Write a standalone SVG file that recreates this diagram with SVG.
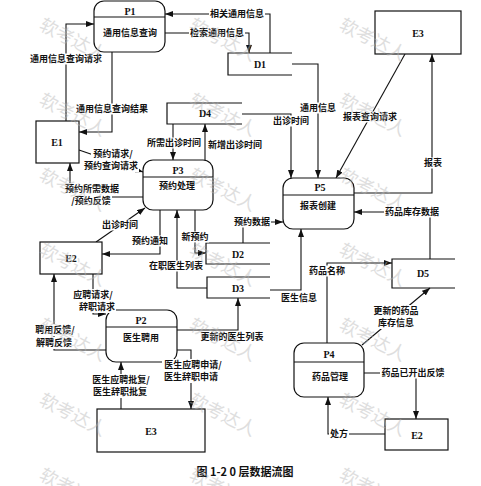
<svg xmlns="http://www.w3.org/2000/svg" width="481" height="486" viewBox="0 0 481 486">
<style>
.n{fill:#fff;stroke:#111;stroke-width:1.2}
.s{fill:none;stroke:#111;stroke-width:1.2}
.c{fill:none;stroke:#111;stroke-width:1.1;marker-end:url(#a)}
.t{font-family:"Noto Sans CJK SC","Noto Sans",sans-serif;font-size:9px;font-weight:bold;fill:#111;text-anchor:middle}
.id{font-family:"Liberation Serif",serif;font-size:10px;font-weight:bold;fill:#111;text-anchor:middle}
.bg{fill:#fff}
.wm{font-family:"Noto Sans CJK SC",sans-serif;font-size:18px;fill:#b8b8b8;opacity:.45}
.cap{font-family:"Noto Sans CJK SC","Liberation Serif",sans-serif;font-size:11px;font-weight:bold;fill:#111;text-anchor:middle}
</style>
<defs>
<marker id="a" markerWidth="8" markerHeight="6" refX="8" refY="3" orient="auto" markerUnits="userSpaceOnUse"><path d="M0,0 L8,3 L0,6 z" fill="#111"/></marker>
</defs>
<rect width="481" height="486" fill="#fff"/>
<g id="connectors">
<path class="c" d="M270,53 V14 H165"/>
<path class="c" d="M165,33 H249 V53"/>
<path class="c" d="M66,121 V24 H94"/>
<path class="c" d="M112,52 V132 H79"/>
<path class="c" d="M292,64 H318 V178"/>
<path class="c" d="M242,114 H291 V178"/>
<path class="c" d="M405,54 L336,178"/>
<path class="c" d="M354,193 H432 V54"/>
<path class="c" d="M430,259 V212 H354"/>
<path class="c" d="M173,124 V160"/>
<path class="c" d="M205,160 V124"/>
<path class="c" d="M79,150 L143,172"/>
<path class="c" d="M143,197 H70 V163"/>
<path class="c" d="M96,242 L145,208"/>
<path class="c" d="M160,210 V254 H102"/>
<path class="c" d="M207,288 H177 V210"/>
<path class="c" d="M195,210 V253 H206"/>
<path class="c" d="M243,243 V222 H283"/>
<path class="c" d="M270,290 H301 V229"/>
<path class="c" d="M327,343 V263 H392"/>
<path class="c" d="M362,345 L430,288"/>
<path class="c" d="M364,373 H416 V419"/>
<path class="c" d="M385,434 H328 V397"/>
<path class="c" d="M93,274 V314 H106"/>
<path class="c" d="M106,350 H54 V274"/>
<path class="c" d="M177,330 H238 V298"/>
<path class="c" d="M177,350 H191 V409"/>
<path class="c" d="M121,409 V362"/>
</g>
<g id="p1"><rect class="n" x="94" y="1" width="71" height="51" rx="10"/><path class="s" d="M94,17 H165"/><text class="id" x="130" y="15">P1</text><text class="t" x="130" y="36">通用信息查询</text></g>
<g id="p3"><rect class="n" x="143" y="160" width="70" height="50" rx="10"/><path class="s" d="M143,177 H213"/><text class="id" x="178" y="174">P3</text><text class="t" x="177" y="189">预约处理</text></g>
<g id="p5"><rect class="n" x="283" y="178" width="71" height="51" rx="10"/><path class="s" d="M283,195 H354"/><text class="id" x="320" y="191">P5</text><text class="t" x="318" y="209">报表创建</text></g>
<g id="p2"><rect class="n" x="106" y="310" width="71" height="52" rx="10"/><path class="s" d="M106,327 H177"/><text class="id" x="141" y="324">P2</text><text class="t" x="141" y="341">医生聘用</text></g>
<g id="p4"><rect class="n" x="294" y="343" width="70" height="54" rx="10"/><path class="s" d="M294,362 H364"/><text class="id" x="329" y="358">P4</text><text class="t" x="330" y="380">药品管理</text></g>
<g id="e1"><rect class="n" x="36" y="121" width="43" height="42"/><text class="id" x="57" y="146">E1</text></g>
<g id="e2a"><rect class="n" x="40" y="242" width="62" height="32"/><text class="id" x="71" y="262">E2</text></g>
<g id="e3a"><rect class="n" x="375" y="11" width="86" height="43"/><text class="id" x="418" y="37">E3</text></g>
<g id="e3b"><rect class="n" x="97" y="409" width="108" height="43"/><text class="id" x="151" y="435">E3</text></g>
<g id="e2b"><rect class="n" x="385" y="419" width="63" height="31"/><text class="id" x="417" y="439">E2</text></g>
<g id="d1"><path class="s" d="M292,53 H228 V75 H292"/><text class="id" x="260" y="68">D1</text></g>
<g id="d4"><path class="s" d="M242,103 H167 V124 H242"/><text class="id" x="205" y="117">D4</text></g>
<g id="d2"><path class="s" d="M270,243 H206 V264 H270"/><text class="id" x="238" y="258">D2</text></g>
<g id="d3"><path class="s" d="M270,277 H207 V298 H270"/><text class="id" x="238" y="292">D3</text></g>
<g id="d5"><path class="s" d="M455,259 H392 V288 H455"/><text class="id" x="423" y="277">D5</text></g>
<g id="labels">
<rect class="bg" x="209" y="8.5" width="56" height="11"/><text class="t" x="237" y="17.3">相关通用信息</text>
<rect class="bg" x="189" y="27.5" width="56" height="11"/><text class="t" x="217" y="36.3">检索通用信息</text>
<rect class="bg" x="29" y="53.5" width="74" height="11"/><text class="t" x="66" y="62.3">通用信息查询请求</text>
<rect class="bg" x="75" y="103.5" width="74" height="11"/><text class="t" x="112" y="112.3">通用信息查询结果</text>
<rect class="bg" x="299" y="102.5" width="38" height="11"/><text class="t" x="318" y="111.3">通用信息</text>
<rect class="bg" x="272" y="115.5" width="38" height="11"/><text class="t" x="291" y="124.3">出诊时间</text>
<rect class="bg" x="342" y="111.5" width="56" height="11"/><text class="t" x="370" y="120.3">报表查询请求</text>
<rect class="bg" x="423" y="157.5" width="20" height="11"/><text class="t" x="433" y="166.3">报表</text>
<rect class="bg" x="384" y="206.5" width="56" height="11"/><text class="t" x="412" y="215.3">药品库存数据</text>
<rect class="bg" x="146" y="137.5" width="56" height="11"/><text class="t" x="174" y="146.3">所需出诊时间</text>
<text class="t" x="208" y="148.3" style="text-anchor:start">新增出诊时间</text>
<rect class="bg" x="91" y="148" width="43" height="12"/><text class="t" x="113" y="157">预约请求/</text>
<rect class="bg" x="83" y="160" width="56" height="12"/><text class="t" x="111" y="169">预约查询请求</text>
<rect class="bg" x="64" y="183" width="56" height="12"/><text class="t" x="92" y="192">预约所需数据</text>
<rect class="bg" x="69" y="195" width="43" height="12"/><text class="t" x="91" y="204">/预约反馈</text>
<rect class="bg" x="101" y="219.5" width="38" height="11"/><text class="t" x="120" y="228.3">出诊时间</text>
<rect class="bg" x="131" y="235.5" width="38" height="11"/><text class="t" x="150" y="244.3">预约通知</text>
<rect class="bg" x="148" y="260.5" width="56" height="11"/><text class="t" x="176" y="269.3">在职医生列表</text>
<rect class="bg" x="180" y="231.5" width="29" height="11"/><text class="t" x="195" y="240.3">新预约</text>
<rect class="bg" x="233" y="216.5" width="38" height="11"/><text class="t" x="252" y="225.3">预约数据</text>
<text class="t" x="299" y="301.3">医生信息</text>
<rect class="bg" x="308" y="265.5" width="38" height="11"/><text class="t" x="327" y="274.3">药品名称</text>
<rect class="bg" x="372" y="305" width="48" height="12"/><text class="t" x="396" y="314">更新的药品</text>
<rect class="bg" x="377" y="317" width="38" height="12"/><text class="t" x="396" y="326">库存信息</text>
<rect class="bg" x="380" y="367.5" width="65" height="11"/><text class="t" x="413" y="376.3">药品已开出反馈</text>
<rect class="bg" x="329" y="428.5" width="20" height="11"/><text class="t" x="339" y="437.3">处方</text>
<rect class="bg" x="71" y="289" width="43" height="12"/><text class="t" x="93" y="298">应聘请求/</text>
<rect class="bg" x="78" y="301" width="38" height="12"/><text class="t" x="97" y="310">辞职请求</text>
<rect class="bg" x="33" y="324" width="43" height="12"/><text class="t" x="55" y="333">聘用反馈/</text>
<rect class="bg" x="35" y="337" width="38" height="12"/><text class="t" x="54" y="346">解聘反馈</text>
<text class="t" x="232" y="340.3">更新的医生列表</text>
<rect class="bg" x="162" y="359" width="61" height="12"/><text class="t" x="193" y="368">医生应聘申请/</text>
<rect class="bg" x="163" y="371" width="56" height="12"/><text class="t" x="191" y="380">医生辞职申请</text>
<rect class="bg" x="90" y="374" width="61" height="12"/><text class="t" x="121" y="383">医生应聘批复/</text>
<rect class="bg" x="92" y="386" width="56" height="12"/><text class="t" x="120" y="395">医生辞职批复</text>
</g>
<text class="cap" x="245" y="476">图 1-2 0 层数据流图</text>
<g id="watermark">
<text class="wm" transform="translate(38,29) rotate(27)">软考达人</text>
<text class="wm" transform="translate(38,104) rotate(27)">软考达人</text>
<text class="wm" transform="translate(38,179) rotate(27)">软考达人</text>
<text class="wm" transform="translate(38,254) rotate(27)">软考达人</text>
<text class="wm" transform="translate(38,329) rotate(27)">软考达人</text>
<text class="wm" transform="translate(38,404) rotate(27)">软考达人</text>
<text class="wm" transform="translate(38,479) rotate(27)">软考达人</text>
<text class="wm" transform="translate(188,29) rotate(27)">软考达人</text>
<text class="wm" transform="translate(188,104) rotate(27)">软考达人</text>
<text class="wm" transform="translate(188,179) rotate(27)">软考达人</text>
<text class="wm" transform="translate(188,254) rotate(27)">软考达人</text>
<text class="wm" transform="translate(188,329) rotate(27)">软考达人</text>
<text class="wm" transform="translate(188,404) rotate(27)">软考达人</text>
<text class="wm" transform="translate(188,479) rotate(27)">软考达人</text>
<text class="wm" transform="translate(338,29) rotate(27)">软考达人</text>
<text class="wm" transform="translate(338,104) rotate(27)">软考达人</text>
<text class="wm" transform="translate(338,179) rotate(27)">软考达人</text>
<text class="wm" transform="translate(338,254) rotate(27)">软考达人</text>
<text class="wm" transform="translate(338,329) rotate(27)">软考达人</text>
<text class="wm" transform="translate(338,404) rotate(27)">软考达人</text>
<text class="wm" transform="translate(338,479) rotate(27)">软考达人</text>
</g>
</svg>
